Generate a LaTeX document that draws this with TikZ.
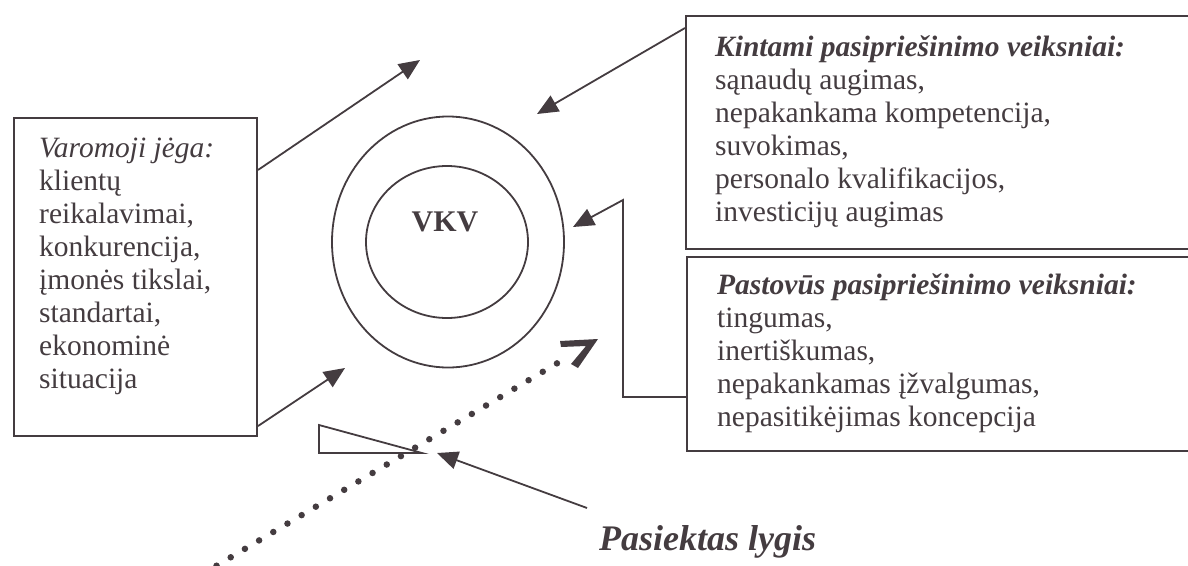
\documentclass[tikz,border=0pt]{standalone}
\usepackage{fontspec}
\setmainfont{Liberation Serif}
\usetikzlibrary{arrows.meta,shapes.geometric}
\definecolor{ink}{RGB}{68,60,64}
\begin{document}
\begin{tikzpicture}[x=1pt,y=-1pt,
  frame/.style={draw=ink, line width=2pt, rectangle, inner sep=0pt, anchor=north west},
  ring/.style={draw=ink, line width=1.8pt, ellipse, inner sep=0pt},
  blocktext/.style={text=ink, anchor=north west, inner sep=0pt, align=left, font=\fontsize{29.5}{33}\selectfont},
  conn/.style={draw=ink, line width=1.8pt, -{Triangle[length=21pt,width=18pt]}},
  dotline/.style={draw=ink, line width=6.5pt, line cap=round, dash pattern=on 0pt off 16.5pt}]
\useasboundingbox (0,0) rectangle (1188,565);
\clip (0,0) rectangle (1188,565);

% boxes
\node[frame, minimum width=243pt, minimum height=318pt] (drive) at (13,117) {};
\node[frame, minimum width=515pt, minimum height=233pt] (kbox) at (685,15) {};
\node[frame, minimum width=514pt, minimum height=194pt] (pbox) at (686,256) {};

% box texts
\node[blocktext] (drivetext) at (39,138)
  {\textit{Varomoji jėga:}\\ klientų\\ reikalavimai,\\ konkurencija,\\ įmonės tikslai,\\ standartai,\\ ekonominė\\ situacija};
\node[blocktext] (ktext) at (715,35)
  {\textbf{\textit{Kintami pasipriešinimo veiksniai:}}\\ sąnaudų augimas,\\ nepakankama kompetencija,\\ suvokimas,\\ personalo kvalifikacijos,\\ investicijų augimas};
\node[blocktext] (ptext) at (717,273)
  {\textbf{\textit{Pastovūs pasipriešinimo veiksniai:}}\\ tingumas,\\ inertiškumas,\\ nepakankamas įžvalgumas,\\ nepasitikėjimas koncepcija};

% central rings
\node[ring, minimum width=232pt, minimum height=251pt] (outer) at (448,242) {};
\node[ring, minimum width=162pt, minimum height=152pt] (inner) at (447,242) {};
\node[text=ink, anchor=base, inner sep=0pt, font=\bfseries\fontsize{30}{30}\selectfont] (vkv) at (445,231) {VKV};

% free arrow ends
\coordinate (t1) at (420,60);
\coordinate (t2) at (345,368);
\coordinate (t3) at (537,114);
\coordinate (bend) at (623,200);
\coordinate (t4) at (573,227);
\coordinate (t5) at (437,453);
\coordinate (s5) at (587,508);

% connectors
\draw[conn] ([yshift=-53pt]drive.north east) -- (t1);
\draw[conn] ([yshift=11pt]drive.south east) -- (t2);
\draw[conn] ([yshift=-13pt]kbox.north west) -- (t3);
\draw[conn] ([yshift=55pt]pbox.south west) -| (bend) -- (t4);

% level triangle
\draw[ink, line width=1.8pt, line join=miter] (319,425) -- (319,453) -- (422,453) -- cycle;

% dotted trend line with its bent tip
\coordinate (d0) at (174,591);
\coordinate (d1) at (571,355);
\draw[dotline] (d0) -- (d1);
\fill[ink] (560,341) -- (598,339) -- (578,368) -- (571,364) -- (586,346) -- (561,347) -- cycle;

% reached level label
\node[text=ink, anchor=base west, inner sep=0pt, font=\bfseries\itshape\fontsize{36}{36}\selectfont] (goal) at (599,550) {Pasiektas lygis};
\draw[conn] (s5) -- (t5);
\end{tikzpicture}
\end{document}
